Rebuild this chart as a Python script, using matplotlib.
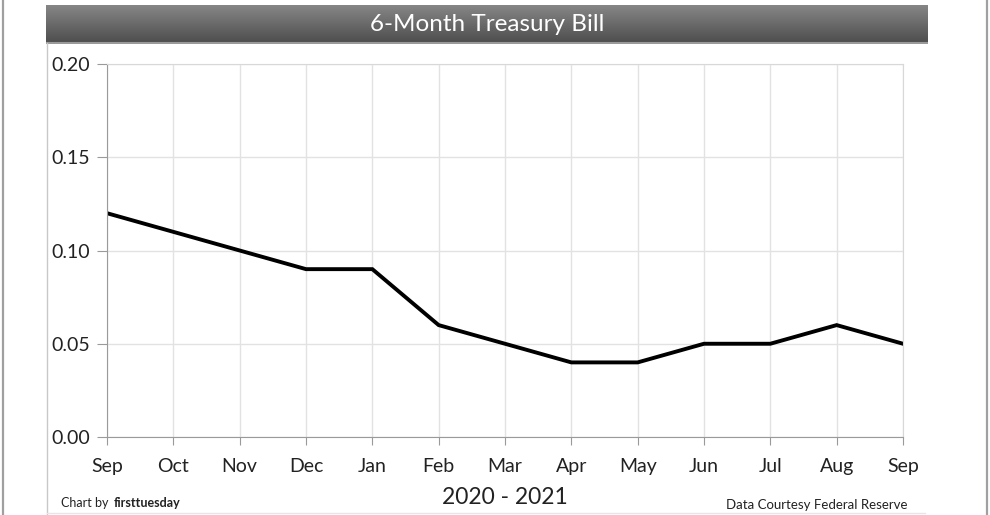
import numpy as np
import matplotlib.pyplot as plt
from matplotlib.lines import Line2D

plt.rcParams['font.family'] = ['Lato', 'DejaVu Sans']

months = ['Sep', 'Oct', 'Nov', 'Dec', 'Jan', 'Feb', 'Mar', 'Apr', 'May', 'Jun', 'Jul', 'Aug', 'Sep']
rates = [0.12, 0.11, 0.10, 0.09, 0.09, 0.06, 0.05, 0.04, 0.04, 0.05, 0.05, 0.06, 0.05]
yticks = [0.00, 0.05, 0.10, 0.15, 0.20]

W, H = 990, 515
fig = plt.figure(figsize=(W / 100, H / 100), dpi=100)

# outer frame lines
fig.add_artist(Line2D([3 / W, 3 / W], [0, 1], color='#a0a0a0', lw=1.6))
fig.add_artist(Line2D([987 / W, 987 / W], [0, 1], color='#a0a0a0', lw=1.6))
fig.add_artist(Line2D([47 / W, 47 / W], [0, 1 - 43 / H], color='#c8c8c8', lw=1.0))
fig.add_artist(Line2D([47 / W, 925 / W], [1 - 513 / H, 1 - 513 / H], color='#e6e6e6', lw=1.0))

# title bar with gradient
tb = fig.add_axes([46 / W, 1 - 44 / H, (928 - 46) / W, 39 / H])
grad = np.linspace(0, 1, 100).reshape(-1, 1)
tb.imshow(grad, aspect='auto', cmap=plt.matplotlib.colors.LinearSegmentedColormap.from_list(
    'g', ['#868686', '#4c4c4c']), extent=[0, 1, 0, 1], origin='upper')
tb.axhline(0.02, color='#9a9a9a', lw=1.5)
tb.set_axis_off()
tb.text(0.5, 0.5, '6-Month Treasury Bill', color='white', fontsize=17.5,
        ha='center', va='center', transform=tb.transAxes)

# main plot
ax = fig.add_axes([107 / W, 1 - 437 / H, (903 - 107) / W, (437 - 64) / H])
x = np.arange(len(months))
ax.plot(x, rates, color='black', lw=2.8, solid_joinstyle='miter')
ax.set_xlim(0, len(months) - 1)
ax.set_ylim(0, 0.20)
ax.set_xticks(x)
ax.set_xticklabels(months, fontsize=14, color='#222222')
ax.set_yticks(yticks)
ax.set_yticklabels(['%.2f' % v for v in yticks], fontsize=14, color='#222222')
ax.grid(True, color='#e2e2e2', lw=1.0)
ax.set_axisbelow(True)
for s in ax.spines.values():
    s.set_color('#d8d8d8')
ax.spines['bottom'].set_color('#9a9a9a')
ax.spines['left'].set_color('#9a9a9a')
ax.tick_params(axis='x', length=6, color='#9a9a9a', pad=9)
ax.tick_params(axis='y', length=7, color='#9a9a9a', pad=5)

fig.text(505 / W, 1 - 497 / H, '2020 - 2021', fontsize=16.5, ha='center', va='center', color='#222222')
fig.text(61 / W, 1 - 503 / H, 'Chart by', fontsize=9, ha='left', va='center', color='#222222')
fig.text(114 / W, 1 - 503 / H, 'firsttuesday', fontsize=9, fontweight='bold', ha='left', va='center', color='#222222')
fig.text(907 / W, 1 - 505 / H, 'Data Courtesy Federal Reserve', fontsize=9.5, ha='right', va='center', color='#222222')

fig.savefig('out.png', dpi=100)
